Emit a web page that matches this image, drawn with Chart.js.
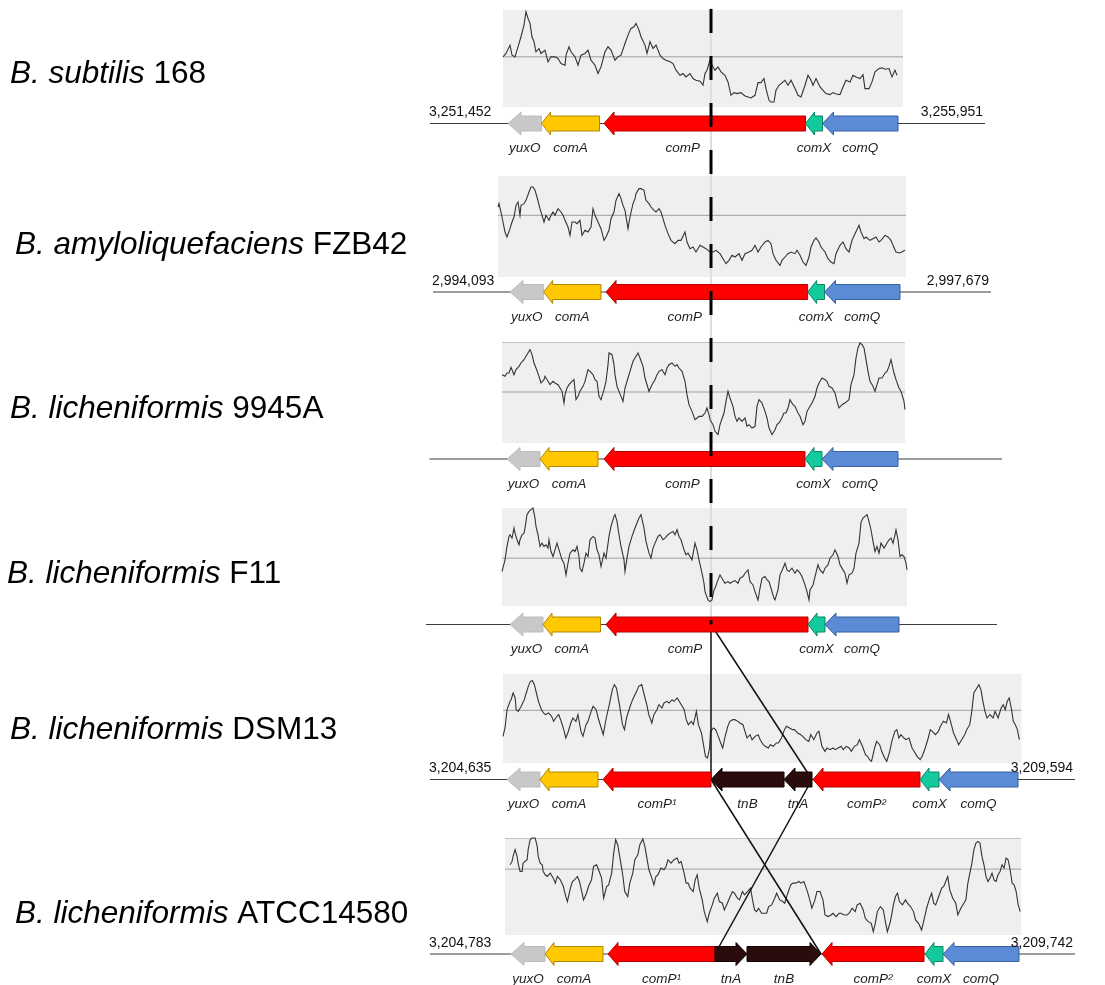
<!DOCTYPE html>
<html>
<head>
<meta charset="utf-8">
<title>comP locus – GC profiles</title>
<script src="https://cdn.jsdelivr.net/npm/chart.js@4.4.1/dist/chart.umd.min.js"></script>
<style>
    html, body { margin: 0; padding: 0; background: #fff; }
    #wrap { width: 1105px; height: 985px; position: relative; }
</style>
</head>
<body>
<div id="wrap"><canvas id="locusChart" width="1105" height="985"></canvas></div>
<script>
/* ── DADOS ── */
const strains = [
    ['B. subtilis', '168'],
    ['B. amyloliquefaciens', 'FZB42'],
    ['B. licheniformis', '9945A'],
    ['B. licheniformis', 'F11'],
    ['B. licheniformis', 'DSM13'],
    ['B. licheniformis', 'ATCC14580']
];

const regionStart = ['3,251,452', '2,994,093', '', '', '3,204,635', '3,204,783'];
const regionEnd = ['3,255,951', '2,997,679', '', '', '3,209,594', '3,209,742'];

// map line ends, bp on the common map axis
const lineFrom = [0, 24, -4, -32, 0, 0];
const lineTo = [4440, 4488, 4576, 4536, 5160, 5160];

// [name, start bp, end bp, strand]
const genes1 = [['yuxO', 624, 892, -1], ['comA', 892, 1356, -1], ['comP', 1392, 3004, -1], ['comX', 3004, 3140, -1], ['comQ', 3140, 3744, -1]];
const genes2 = [['yuxO', 640, 909, -1], ['comA', 909, 1368, -1], ['comP', 1408, 3021, -1], ['comX', 3021, 3156, -1], ['comQ', 3156, 3760, -1]];
const genes3 = [['yuxO', 616, 880, -1], ['comA', 880, 1344, -1], ['comP', 1392, 3000, -1], ['comX', 3000, 3136, -1], ['comQ', 3136, 3744, -1]];
const genes4 = [['yuxO', 640, 904, -1], ['comA', 904, 1364, -1], ['comP', 1408, 3024, -1], ['comX', 3024, 3160, -1], ['comQ', 3160, 3752, -1]];
const genes5 = [['yuxO', 616, 880, -1], ['comA', 880, 1344, -1], ['comP¹', 1384, 2248, -1], ['tnB', 2248, 2832, -1], ['tnA', 2832, 3056, -1], ['comP²', 3064, 3920, -1], ['comX', 3920, 4072, -1], ['comQ', 4072, 4704, -1]];
const genes6 = [['yuxO', 648, 920, -1], ['comA', 920, 1384, -1], ['comP¹', 1424, 2280, -1], ['tnA', 2280, 2536, 1], ['tnB', 2536, 3128, 1], ['comP²', 3136, 3952, -1], ['comX', 3960, 4104, -1], ['comQ', 4104, 4712, -1]];
const genes = [genes1, genes2, genes3, genes4, genes5, genes6];

// insertion site inside comP, and the links between strains [from, bp, to, bp]
const insertionBp = 2248;
const links = [[3, 2248, 4, 2248], [3, 2248, 4, 3056], [4, 2248, 5, 3128], [4, 3056, 5, 2280]];

// GC content (%) along sliding windows: [window, GC]
const gc1 = [[0,45.0],[3,46.0],[7,48.5],[9,45.5],[12,45.0],[15,48.0],[18,51.0],[21,54.5],[23,58.5],[25,56.5],[27,55.0],[29,51.0],[31,49.5],[33,46.5],[36,47.5],[38,46.0],[42,47.0],[45,43.5],[48,45.0],[52,45.0],[55,44.5],[58,43.0],[62,42.5],[63,45.5],[66,48.0],[68,46.5],[72,45.0],[75,42.5],[78,45.5],[82,46.0],[85,47.0],[88,44.0],[92,42.5],[95,40.0],[98,42.0],[102,46.5],[105,48.0],[108,47.0],[112,44.0],[115,45.0],[118,45.5],[122,49.0],[125,51.5],[128,53.5],[131,54.0],[133,55.0],[136,53.0],[138,51.0],[142,48.5],[144,46.0],[147,49.5],[150,47.5],[153,48.5],[157,45.5],[160,44.5],[163,44.0],[167,43.5],[170,43.0],[173,41.0],[177,39.5],[180,40.0],[183,39.0],[187,40.0],[190,38.5],[193,38.0],[197,37.7],[200,36.5],[202,40.0],[204,41.0],[207,44.0],[209,42.5],[212,41.0],[215,42.0],[218,40.5],[222,39.5],[225,37.5],[228,33.5],[231,34.3],[234,34.0],[238,34.3],[242,33.3],[245,33.0],[248,32.7],[252,33.5],[255,37.3],[258,37.3],[261,38.5],[263,35.5],[266,32.0],[268,31.5],[271,31.5],[273,35.0],[276,36.5],[278,37.0],[282,38.0],[285,36.5],[288,38.0],[292,35.5],[295,33.5],[298,33.0],[302,36.5],[305,39.5],[308,38.0],[310,36.5],[313,38.5],[317,36.0],[320,35.0],[323,34.0],[327,33.7],[330,34.3],[333,33.9],[337,33.7],[340,36.0],[343,38.0],[347,37.5],[350,39.5],[353,39.0],[357,38.5],[360,39.7],[362,35.5],[366,35.5],[369,37.5],[372,40.5],[376,41.5],[379,41.7],[382,41.3],[386,41.5],[389,39.0],[392,41.0],[394,39.5]];
const gc2 = [[0,51.0],[1,52.0],[3,49.5],[5,46.5],[7,43.5],[9,42.0],[12,44.5],[14,46.5],[16,48.0],[18,51.5],[20,52.5],[22,48.5],[23,51.5],[26,52.0],[28,53.0],[31,55.5],[33,57.0],[35,57.0],[37,56.0],[39,54.0],[42,50.5],[44,48.5],[46,46.5],[48,48.5],[51,47.0],[53,48.5],[55,49.5],[57,48.5],[60,50.5],[63,49.5],[65,48.5],[67,47.0],[70,45.0],[72,42.5],[74,46.5],[77,46.5],[79,46.0],[82,47.0],[84,42.5],[87,44.0],[90,43.5],[93,45.0],[95,50.5],[97,48.5],[100,46.5],[103,44.5],[106,41.0],[108,42.0],[111,44.0],[113,47.5],[116,49.5],[118,53.0],[121,55.0],[123,53.5],[125,51.5],[127,50.0],[130,44.5],[132,48.0],[135,52.0],[137,53.5],[138,55.0],[141,56.5],[143,56.5],[146,56.0],[148,53.0],[151,52.0],[153,51.0],[156,50.0],[158,49.5],[161,50.5],[163,49.5],[165,47.5],[167,45.5],[170,43.0],[173,41.0],[177,40.0],[180,41.0],[183,41.0],[187,43.5],[189,40.5],[192,38.5],[195,39.0],[198,37.5],[202,39.5],[205,39.0],[208,38.5],[212,37.5],[215,37.5],[218,38.0],[222,37.0],[225,35.5],[228,34.0],[231,35.0],[234,36.5],[237,36.0],[241,37.0],[244,35.0],[247,37.0],[251,37.5],[254,38.0],[257,39.5],[260,37.5],[263,39.0],[267,40.5],[270,41.0],[273,40.0],[275,37.0],[278,35.0],[282,33.5],[284,35.0],[287,36.0],[290,37.0],[293,37.5],[297,37.0],[299,38.0],[302,36.5],[305,34.5],[308,33.5],[311,36.0],[313,39.0],[316,41.0],[318,41.7],[321,40.5],[323,39.0],[327,37.5],[330,35.5],[333,34.5],[336,34.0],[338,37.0],[342,39.5],[345,40.5],[348,38.5],[351,37.5],[354,41.0],[357,43.0],[361,45.5],[363,43.5],[366,41.5],[368,42.0],[372,41.0],[375,41.5],[378,42.0],[381,40.5],[383,41.0],[387,42.5],[390,42.0],[393,41.0],[395,39.5],[398,37.5],[402,37.2],[405,37.7],[407,38.0]];
const gc3 = [[0,50.5],[3,50.0],[5,51.0],[7,51.0],[9,52.7],[12,50.5],[14,52.0],[17,53.0],[19,54.0],[22,55.0],[24,56.0],[27,57.5],[28,58.0],[30,56.5],[32,54.0],[34,52.5],[37,50.0],[39,48.0],[42,49.0],[43,50.0],[46,48.5],[48,47.5],[51,48.5],[53,48.0],[56,47.5],[58,46.5],[60,45.5],[62,42.0],[63,44.5],[65,46.5],[67,47.5],[70,48.5],[72,49.0],[74,43.0],[76,44.0],[78,45.5],[81,47.0],[83,48.5],[86,52.0],[88,51.5],[91,50.5],[93,49.0],[95,48.5],[97,44.0],[99,43.0],[102,46.0],[104,48.5],[106,53.5],[107,57.0],[110,56.5],[112,53.5],[113,50.5],[115,47.0],[117,45.5],[119,44.0],[121,42.5],[123,46.5],[126,49.5],[128,51.5],[131,54.5],[133,55.5],[136,57.0],[138,55.5],[141,53.0],[143,49.5],[146,46.5],[147,45.5],[150,47.5],[153,49.0],[155,50.5],[157,51.5],[160,52.0],[163,50.5],[165,52.5],[167,53.5],[170,54.0],[173,53.0],[175,53.5],[177,52.5],[180,51.5],[183,48.5],[185,44.5],[187,41.5],[190,39.5],[193,37.0],[195,37.5],[197,38.0],[200,38.0],[203,39.0],[205,40.5],[207,38.5],[208,37.0],[211,35.5],[213,33.5],[216,32.5],[218,35.5],[222,39.0],[224,42.5],[226,45.5],[228,43.5],[231,41.0],[233,38.0],[235,36.5],[237,37.5],[240,36.5],[243,37.5],[245,35.0],[247,35.5],[250,34.5],[253,35.0],[255,41.0],[257,43.0],[260,42.0],[263,39.5],[265,37.5],[267,34.5],[270,32.5],[273,34.0],[275,35.5],[277,36.0],[279,37.0],[282,39.0],[284,39.0],[286,40.5],[288,43.0],[291,41.5],[293,41.0],[296,39.0],[298,38.0],[301,35.5],[303,36.5],[305,39.5],[307,40.5],[310,42.0],[313,44.0],[315,46.5],[317,48.0],[320,49.5],[323,49.0],[325,48.5],[327,47.0],[330,46.5],[333,45.0],[335,42.5],[337,40.5],[340,41.5],[343,42.0],[345,42.5],[347,43.0],[349,47.5],[352,50.5],[354,55.5],[356,58.5],[358,60.0],[360,59.5],[362,58.5],[364,55.0],[366,51.5],[368,48.5],[371,47.0],[373,45.5],[375,47.5],[377,49.5],[380,49.5],[383,51.0],[385,51.5],[387,53.0],[389,55.0],[392,51.0],[394,49.0],[397,46.5],[399,45.5],[402,42.5],[403,40.0]];
const gc4 = [[0,40.3],[3,43.8],[5,47.8],[7,50.8],[8,51.3],[10,50.3],[12,53.3],[13,51.8],[15,49.8],[17,48.3],[18,49.8],[20,51.3],[22,51.8],[23,53.3],[25,57.3],[27,58.3],[29,58.8],[31,59.3],[33,56.3],[34,53.8],[36,51.3],[38,47.8],[40,48.8],[42,47.8],[44,48.3],[46,47.3],[47,49.8],[49,46.3],[51,44.8],[53,46.8],[55,48.8],[57,46.8],[58,45.8],[60,43.8],[62,42.8],[64,39.3],[66,42.8],[68,45.8],[71,46.8],[73,46.3],[75,47.8],[77,44.8],[78,41.3],[80,40.3],[82,42.8],[84,45.8],[86,44.8],[88,49.8],[91,50.8],[93,50.3],[95,46.8],[97,45.3],[99,41.8],[102,45.8],[104,44.3],[107,50.8],[109,53.8],[112,56.8],[113,57.3],[115,55.3],[117,51.3],[119,47.8],[122,43.8],[123,40.3],[125,44.3],[127,47.8],[130,50.8],[133,53.3],[135,54.8],[137,56.3],[139,57.3],[142,53.3],[144,49.3],[147,45.8],[149,44.3],[151,47.3],[153,48.8],[156,50.8],[158,51.3],[161,49.8],[163,50.3],[166,51.3],[168,51.8],[171,52.3],[173,51.3],[175,52.8],[177,50.8],[179,49.8],[182,46.8],[184,45.3],[186,45.8],[188,44.8],[190,43.8],[193,48.8],[195,46.8],[197,43.8],[200,39.8],[202,36.8],[203,34.3],[206,31.8],[208,31.3],[210,31.8],[212,34.8],[213,35.3],[216,37.8],[218,39.3],[221,37.8],[223,36.8],[226,37.3],[228,36.8],[231,37.3],[233,37.6],[236,36.8],[238,38.3],[241,38.8],[243,39.8],[246,40.8],[248,37.3],[251,36.3],[253,34.3],[256,31.8],[258,35.3],[260,38.3],[263,38.8],[265,37.8],[267,37.3],[269,35.3],[272,32.3],[273,31.8],[276,34.8],[278,39.3],[281,41.3],[283,42.8],[285,40.8],[287,40.3],[290,41.3],[293,39.8],[295,40.8],[297,40.3],[300,38.8],[303,36.3],[305,34.3],[307,31.8],[308,34.8],[311,36.3],[313,38.8],[316,42.3],[318,40.8],[321,39.8],[323,41.3],[326,42.3],[328,44.3],[331,45.3],[333,46.8],[336,44.8],[338,42.3],[341,40.8],[343,39.8],[345,36.8],[347,39.3],[350,39.8],[352,41.3],[354,45.8],[357,48.8],[359,55.0],[361,56.3],[363,56.8],[365,57.3],[367,55.3],[369,52.8],[371,49.3],[373,46.3],[375,47.8],[377,45.8],[379,48.8],[382,47.3],[384,48.3],[387,49.8],[389,50.3],[391,48.8],[393,51.3],[394,52.8],[396,49.8],[398,44.8],[400,45.3],[402,44.8],[404,42.8],[405,40.8]];
const gc5 = [[0,38.0],[2,40.5],[4,46.0],[7,48.5],[8,49.0],[10,51.0],[12,49.5],[13,46.0],[15,45.5],[17,46.5],[18,47.0],[21,49.0],[23,51.0],[25,53.0],[27,54.5],[29,54.7],[31,53.5],[33,51.0],[35,48.5],[38,46.0],[40,45.0],[42,44.5],[45,45.0],[48,44.0],[50,42.5],[52,43.5],[55,44.5],[58,42.0],[60,40.0],[62,37.5],[64,39.0],[67,42.0],[69,43.5],[72,42.5],[74,44.5],[77,39.5],[79,38.0],[82,41.5],[84,42.5],[87,45.5],[89,47.0],[92,46.0],[94,43.5],[97,40.5],[99,38.5],[102,43.5],[105,47.5],[108,52.0],[110,53.5],[112,52.5],[115,47.5],[118,41.5],[120,40.0],[122,43.5],[125,46.5],[128,49.0],[132,51.5],[134,53.0],[137,53.5],[139,51.0],[142,47.5],[144,44.5],[147,42.0],[149,44.5],[152,46.0],[154,47.5],[157,46.5],[159,48.0],[162,48.5],[164,48.0],[167,49.0],[169,48.5],[172,49.5],[174,48.5],[177,47.0],[179,46.0],[181,43.0],[183,41.5],[186,42.5],[188,41.5],[191,45.5],[193,41.5],[196,39.0],[198,35.5],[200,32.0],[202,31.5],[204,34.5],[205,39.5],[208,40.5],[210,40.0],[212,38.5],[215,36.0],[217,34.5],[219,37.5],[222,41.0],[224,42.5],[227,43.0],[229,43.0],[232,42.5],[234,42.0],[237,41.5],[239,39.5],[241,37.5],[244,38.5],[246,37.0],[249,38.0],[252,38.5],[254,37.0],[257,35.5],[259,35.0],[262,34.5],[264,35.5],[267,35.0],[270,36.0],[272,36.0],[275,37.5],[278,40.0],[280,41.0],[283,40.5],[286,40.0],[288,40.0],[291,39.0],[294,38.5],[296,38.0],[299,37.0],[302,36.5],[304,38.5],[307,37.0],[310,39.0],[312,39.5],[315,35.0],[318,33.5],[320,34.5],[323,34.0],[326,34.5],[328,34.0],[331,34.5],[334,35.0],[336,34.0],[339,35.0],[342,34.5],[344,33.5],[347,35.0],[350,35.5],[352,37.0],[355,35.0],[358,32.5],[360,32.0],[362,31.0],[364,30.5],[367,34.5],[369,36.5],[372,35.5],[374,33.5],[377,31.5],[379,30.5],[382,33.5],[384,36.5],[387,39.5],[389,40.0],[391,37.5],[393,38.5],[396,37.5],[398,37.0],[401,37.5],[404,34.5],[406,33.5],[409,32.0],[412,31.0],[414,32.0],[417,34.5],[420,37.5],[422,40.0],[424,39.5],[427,38.5],[430,39.5],[432,41.0],[435,42.5],[438,42.0],[440,44.5],[442,42.5],[445,39.0],[448,37.0],[450,35.5],[453,37.0],[456,38.5],[458,40.0],[461,41.5],[463,45.5],[465,51.0],[468,52.5],[470,53.5],[472,52.0],[474,48.5],[476,45.5],[478,43.5],[481,44.5],[484,43.5],[486,45.5],[489,43.5],[492,46.5],[494,47.5],[496,46.0],[498,48.5],[500,49.5],[502,46.5],[504,42.5],[506,41.5],[508,40.0],[510,37.0]];
const gc6 = [[5,51.0],[7,52.0],[8,53.5],[10,55.5],[12,53.5],[13,51.5],[15,49.0],[17,49.0],[18,51.5],[20,52.0],[22,52.5],[23,55.5],[25,58.5],[27,59.0],[30,59.0],[32,56.5],[33,53.5],[35,51.5],[37,51.0],[38,49.0],[40,48.0],[42,47.5],[45,48.5],[48,47.0],[50,45.5],[52,47.5],[55,46.5],[58,44.5],[60,42.0],[62,40.0],[65,44.0],[67,46.0],[69,46.5],[72,47.5],[74,46.0],[77,42.0],[78,40.5],[81,42.5],[83,44.5],[86,46.5],[88,50.5],[91,51.0],[93,49.5],[96,47.0],[98,41.0],[101,44.5],[103,45.0],[106,48.5],[108,54.5],[110,58.5],[112,57.0],[114,53.5],[117,48.0],[119,43.0],[122,41.5],[124,45.5],[127,48.5],[129,52.5],[132,54.0],[134,57.0],[137,58.7],[139,56.5],[141,53.0],[143,49.5],[146,47.0],[148,45.0],[150,47.5],[152,48.0],[155,50.0],[158,49.5],[160,50.5],[162,52.5],[165,51.5],[168,52.5],[171,53.0],[173,51.5],[175,52.0],[178,48.5],[180,45.5],[182,45.5],[184,44.0],[187,43.0],[189,46.5],[191,48.0],[193,44.0],[196,40.5],[198,37.0],[201,34.0],[203,36.5],[206,39.0],[208,41.0],[211,42.5],[213,40.0],[216,39.5],[218,37.5],[221,39.5],[223,41.0],[226,43.0],[228,42.5],[231,41.0],[233,40.5],[236,43.0],[238,42.0],[241,43.0],[244,44.0],[246,40.5],[248,37.5],[250,37.0],[252,38.0],[255,36.5],[258,36.5],[260,36.5],[262,38.5],[265,39.0],[268,41.0],[270,42.5],[273,40.5],[276,40.0],[278,39.5],[281,42.5],[284,45.0],[286,45.5],[289,45.5],[292,46.0],[294,45.5],[297,46.0],[300,43.5],[302,41.5],[305,38.0],[308,40.5],[310,43.0],[313,43.0],[316,40.5],[318,36.0],[321,35.5],[324,36.0],[326,36.5],[329,35.5],[332,36.5],[334,36.5],[337,36.0],[340,36.0],[342,36.5],[345,38.0],[348,37.0],[350,39.0],[353,39.5],[356,37.5],[358,35.0],[361,34.0],[364,33.5],[366,31.0],[368,33.5],[370,37.0],[373,38.5],[376,37.5],[378,34.0],[380,31.0],[383,34.0],[386,39.0],[388,41.5],[390,42.5],[392,40.0],[395,39.0],[398,40.5],[400,39.5],[403,38.5],[406,37.0],[408,34.5],[411,33.5],[414,31.5],[416,34.0],[419,38.0],[422,41.0],[424,42.5],[426,39.5],[428,39.0],[431,41.5],[434,44.0],[436,44.5],[438,46.0],[440,47.5],[442,43.5],[445,41.0],[448,39.5],[450,36.0],[453,38.0],[456,39.5],[458,40.5],[460,45.5],[462,48.5],[464,51.5],[466,55.5],[468,57.5],[470,58.0],[472,57.5],[474,53.5],[476,51.0],[478,47.5],[480,46.0],[482,47.0],[484,48.5],[486,46.5],[488,46.0],[490,48.0],[492,49.0],[494,51.0],[496,50.0],[498,53.0],[500,52.5],[502,49.5],[504,45.5],[506,45.0],[508,43.0],[510,39.0],[512,37.0]];
const gcSeries = [gc1, gc2, gc3, gc4, gc5, gc6];

// genome average GC drawn as the reference line of each profile
const gcMean = [45.0, 48.5, 45.3, 44.3, 45.8, 49.7];
const gcTop = [59.0, 60.3, 60.3, 59.3, 56.7, 59.0];
const GC_FLOOR = 30;

// sliding windows: first window (bp on map axis), count and step (bp)
const windowStart = [584, 544, 576, 576, 584, 600];
const windowCount = [400, 408, 403, 405, 512, 513];
const windowStep = [8, 8, 8, 8, 8.1, 8.05];

/* ── LAYOUT ── */
const W = 1105, H = 985;
const MAP_LEFT_PX = 430, BP_PER_PX = 8;
const boxTopPx = [10, 176, 342, 508, 674, 838];
const boxBottomPx = [107, 277, 443, 606, 763, 935];
const boxRule = [false, false, true, false, false, true];
const rowPx = [123.5, 292, 459, 624.5, 779.5, 954];
const nameBaselinePx = [83, 254, 418, 583, 739, 923];
const nameLeftPx = [10, 15, 10, 7, 10, 15];

const BODY_H = 7.5, HEAD_H = 11.5;
const FONT = '"Liberation Sans", Arial, sans-serif';

const geneStyle = {
    yuxO: { fill: '#c8c8c8', stroke: '#bdbdbd', head: 13 },
    comA: { fill: '#ffc800', stroke: '#b08800', head: 9 },
    comP: { fill: '#ff0000', stroke: '#b30000', head: 10 },
    comX: { fill: '#14c99c', stroke: '#0b8766', head: 9 },
    comQ: { fill: '#5b8bd5', stroke: '#36609f', head: 11 },
    tn:   { fill: '#2a0c0c', stroke: '#120303', head: 11 }
};

function geneKind(name) {
    if (name.startsWith('tn')) return 'tn';
    return name.replace(/[¹²]/g, '');
}

/* ── ESCALAS ── */
function gcAxis(i) {
    const k = (gcTop[i] - GC_FLOOR) / (boxBottomPx[i] - boxTopPx[i]);
    const min = GC_FLOOR - (H - boxBottomPx[i]) * k;
    return { type: 'linear', axis: 'y', display: false, bounds: 'data', min, max: min + H * k };
}

const scales = {
    xMap: {
        type: 'linear', axis: 'x', display: false, bounds: 'data',
        min: -MAP_LEFT_PX * BP_PER_PX,
        max: (W - MAP_LEFT_PX) * BP_PER_PX
    }
};
gcSeries.forEach((s, i) => { scales['y' + i] = gcAxis(i); });

const traceSets = gcSeries.map((s, i) => ({
    label: strains[i].join(' '),
    data: s.map(([w, v]) => ({ x: windowStart[i] + w * windowStep[i], y: v })),
    xAxisID: 'xMap',
    yAxisID: 'y' + i,
    borderColor: '#333',
    borderWidth: 1.1,
    pointRadius: 0,
    tension: 0,
    fill: false
}));

const meanSets = gcMean.map((m, i) => ({
    label: 'mean ' + i,
    data: [
        { x: windowStart[i], y: m },
        { x: windowStart[i] + windowCount[i] * windowStep[i], y: m }
    ],
    xAxisID: 'xMap',
    yAxisID: 'y' + i,
    borderColor: '#a0a0a0',
    borderWidth: 1,
    pointRadius: 0,
    fill: false
}));

/* ── DESENHO DO MAPA ── */
function drawArrow(ctx, x0, x1, y, dir, st) {
    const head = Math.min(st.head, (x1 - x0) * 0.6);
    ctx.beginPath();
    if (dir < 0) {
        ctx.moveTo(x0, y);
        ctx.lineTo(x0 + head, y - HEAD_H);
        ctx.lineTo(x0 + head, y - BODY_H);
        ctx.lineTo(x1, y - BODY_H);
        ctx.lineTo(x1, y + BODY_H);
        ctx.lineTo(x0 + head, y + BODY_H);
        ctx.lineTo(x0 + head, y + HEAD_H);
    } else {
        ctx.moveTo(x1, y);
        ctx.lineTo(x1 - head, y - HEAD_H);
        ctx.lineTo(x1 - head, y - BODY_H);
        ctx.lineTo(x0, y - BODY_H);
        ctx.lineTo(x0, y + BODY_H);
        ctx.lineTo(x1 - head, y + BODY_H);
        ctx.lineTo(x1 - head, y + HEAD_H);
    }
    ctx.closePath();
    ctx.fillStyle = st.fill;
    ctx.fill();
    ctx.strokeStyle = st.stroke;
    ctx.lineWidth = 1;
    ctx.stroke();
}

const locusPlugin = {
    id: 'locusMap',

    beforeDatasetsDraw(chart) {
        const ctx = chart.ctx;
        const xs = chart.scales.xMap;

        ctx.save();
        gcSeries.forEach((s, i) => {
            const ys = chart.scales['y' + i];
            const l = xs.getPixelForValue(windowStart[i]);
            const r = xs.getPixelForValue(windowStart[i] + windowCount[i] * windowStep[i]);
            const t = ys.getPixelForValue(gcTop[i]);
            const b = ys.getPixelForValue(GC_FLOOR);
            ctx.fillStyle = '#efefef';
            ctx.fillRect(l, t, r - l, b - t);
            if (boxRule[i]) {
                ctx.strokeStyle = '#c4c4c4';
                ctx.lineWidth = 1;
                ctx.beginPath();
                ctx.moveTo(l, t + 0.5);
                ctx.lineTo(r, t + 0.5);
                ctx.stroke();
            }
        });

        // faint guide along the insertion site
        const xi = Math.round(xs.getPixelForValue(insertionBp));
        ctx.strokeStyle = '#dedede';
        ctx.lineWidth = 2;
        ctx.beginPath();
        ctx.moveTo(xi, 8);
        ctx.lineTo(xi, rowPx[3]);
        ctx.stroke();
        ctx.restore();
    },

    afterDatasetsDraw(chart) {
        const ctx = chart.ctx;
        const xs = chart.scales.xMap;
        const px = v => xs.getPixelForValue(v);

        ctx.save();

        // map lines
        genes.forEach((g, i) => {
            ctx.strokeStyle = '#3c3c3c';
            ctx.lineWidth = 1.2;
            ctx.beginPath();
            ctx.moveTo(px(lineFrom[i]), rowPx[i]);
            ctx.lineTo(px(lineTo[i]), rowPx[i]);
            ctx.stroke();
        });

        // rearrangement links (under the arrows)
        ctx.strokeStyle = '#111';
        ctx.lineWidth = 1.5;
        links.forEach(([a, bpA, b, bpB]) => {
            ctx.beginPath();
            ctx.moveTo(px(bpA), rowPx[a]);
            ctx.lineTo(px(bpB), rowPx[b]);
            ctx.stroke();
        });

        // genes
        genes.forEach((g, i) => {
            g.forEach(([name, s, e, dir]) => {
                drawArrow(ctx, px(s), px(e), rowPx[i], dir, geneStyle[geneKind(name)]);
            });
        });

        // gene names
        ctx.fillStyle = '#1e1e1e';
        ctx.font = 'italic 13.5px ' + FONT;
        ctx.textAlign = 'center';
        ctx.textBaseline = 'middle';
        genes.forEach((g, i) => {
            g.forEach(([name, s, e]) => {
                let cx = (px(s) + px(e)) / 2;
                if (name === 'comP') cx -= 22;
                ctx.fillText(name, cx, rowPx[i] + 25);
            });
        });

        // coordinates at the ends of the map
        ctx.font = '14px ' + FONT;
        ctx.fillStyle = '#111';
        genes.forEach((g, i) => {
            if (regionStart[i]) {
                ctx.textAlign = 'left';
                ctx.fillText(regionStart[i], px(lineFrom[i]) - 1, rowPx[i] - 11);
            }
            if (regionEnd[i]) {
                ctx.textAlign = 'right';
                ctx.fillText(regionEnd[i], px(lineTo[i]) - 2, rowPx[i] - 11);
            }
        });

        // insertion site, dashed
        const xi = Math.round(px(insertionBp));
        ctx.strokeStyle = '#000';
        ctx.lineWidth = 3;
        ctx.setLineDash([24, 23]);
        ctx.beginPath();
        ctx.moveTo(xi, 9);
        ctx.lineTo(xi, rowPx[3]);
        ctx.stroke();
        ctx.setLineDash([]);

        // strain names
        ctx.textAlign = 'left';
        ctx.textBaseline = 'alphabetic';
        ctx.fillStyle = '#000';
        strains.forEach(([species, strain], i) => {
            ctx.font = 'italic 31.5px ' + FONT;
            ctx.fillText(species, nameLeftPx[i], nameBaselinePx[i]);
            const w = ctx.measureText(species + ' ').width;
            ctx.font = '31.5px ' + FONT;
            ctx.fillText(strain, nameLeftPx[i] + w, nameBaselinePx[i]);
        });

        ctx.restore();
    }
};

/* ── GRÁFICO ── */
const locusChart = new Chart(document.getElementById('locusChart'), {
    type: 'line',
    data: { datasets: traceSets.concat(meanSets) },
    options: {
        responsive: false,
        animation: false,
        events: [],
        layout: { padding: 0 },
        plugins: {
            legend: { display: false },
            tooltip: { enabled: false }
        },
        scales
    },
    plugins: [locusPlugin]
});
</script>
</body>
</html>
